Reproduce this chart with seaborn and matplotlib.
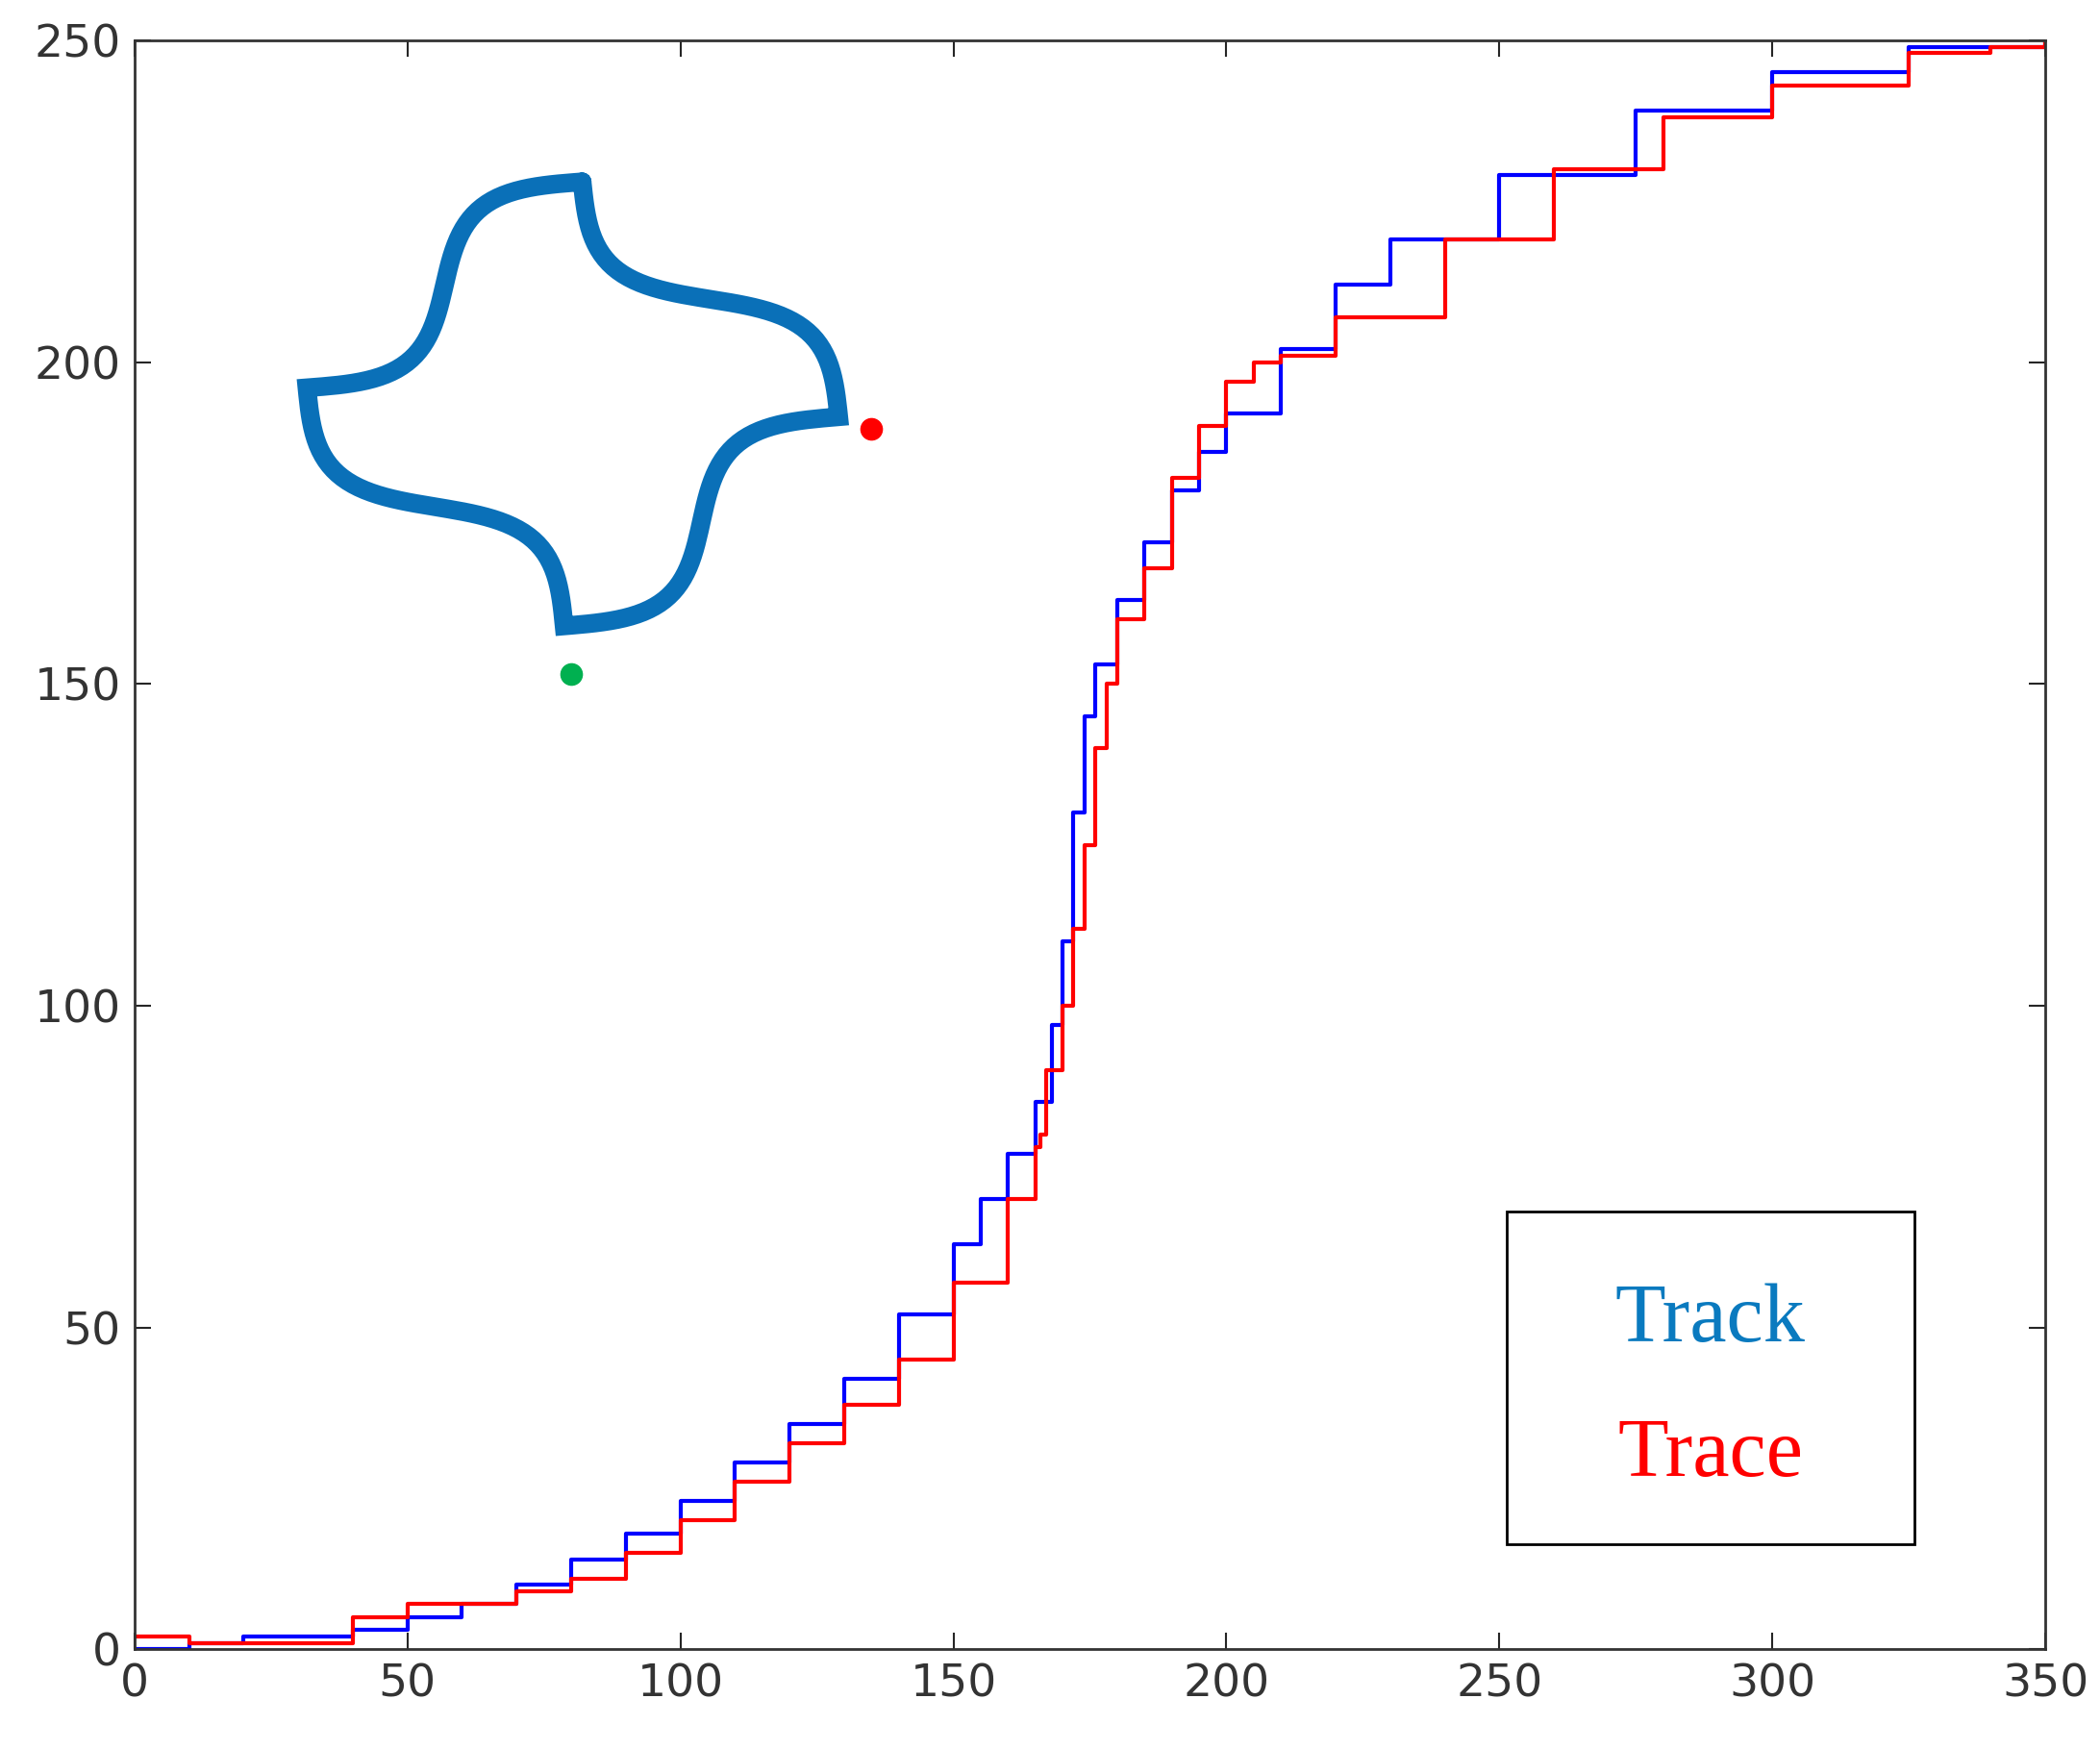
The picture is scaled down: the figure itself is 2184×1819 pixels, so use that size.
import numpy as np
import matplotlib
matplotlib.use("Agg")
import matplotlib.pyplot as plt
import seaborn as sns

# curve data
track_x = [0, 5, 10, 20, 30, 40, 50, 60, 70, 80, 90, 100, 110, 120, 130, 140, 150, 155, 160, 165, 168, 170, 172, 174, 176, 180, 185, 190, 195, 200, 210, 220, 230, 250, 275, 300, 325, 350]
track_y = [0, 0, 1, 2, 2, 3, 5, 7, 10, 14, 18, 23, 29, 35, 42, 52, 63, 70, 77, 85, 97, 110, 130, 145, 153, 163, 172, 180, 186, 192, 202, 212, 219, 229, 239, 245, 249, 250]
trace_x = [0, 8, 10, 20, 30, 40, 50, 60, 70, 80, 90, 100, 110, 120, 130, 140, 150, 160, 165, 166, 167, 170, 172, 174, 176, 178, 180, 185, 190, 195, 200, 205, 210, 220, 240, 260, 280, 300, 325, 340, 350]
trace_y = [2, 2, 1, 1, 1, 5, 7, 7, 9, 11, 15, 20, 26, 32, 38, 45, 57, 70, 78, 80, 90, 100, 112, 125, 140, 150, 160, 168, 182, 190, 197, 200, 201, 207, 219, 230, 238, 243, 248, 249, 250]

# shape outline cusps and marker dots
cusp_x = [82, 129, 78.7, 31.6]
cusp_y = [228, 191.5, 159, 196]
start_dot = (80, 151.5)
end_dot = (135, 189.6)

sns.set_theme(style="white")
fig = plt.figure(figsize=(21.84, 18.19), dpi=100)
ax = fig.add_axes([0.064, 0.057, 0.91, 0.92])

sns.lineplot(x=track_x, y=track_y, ax=ax, color="#0000ff", lw=3, drawstyle="steps-post", estimator=None, sort=False)
sns.lineplot(x=trace_x, y=trace_y, ax=ax, color="#ff0000", lw=3, drawstyle="steps-post", estimator=None, sort=False)

# S-shaped sides between cusps
sx, sy = [], []
ys = 1.43  # rough aspect to data units
t = np.linspace(0, 1, 60)
for i in range(4):
    ax0, ay0 = cusp_x[i], cusp_y[i] * ys
    bx, by = cusp_x[(i + 1) % 4], cusp_y[(i + 1) % 4] * ys
    dx, dy = bx - ax0, by - ay0
    L = np.hypot(dx, dy)
    nx, ny = dy / L, -dx / L
    off = 0.12 * L * np.sin(2 * np.pi * t)
    sx += list(ax0 + t * dx + off * nx)
    sy += list((ay0 + t * dy + off * ny) / ys)
ax.plot(sx, sy, color="#0a70b8", lw=14, solid_joinstyle="miter")

ax.plot(*start_dot, "o", color="#00b050", ms=16)
ax.plot(*end_dot, "o", color="#ff0000", ms=16)

# legend-like box
ax.add_patch(plt.Rectangle((251.3, 16.4), 74.7, 51.6, fill=False, ec="black", lw=2))
ax.text(288.6, 51, "Track", color="#0a7abf", fontsize=62, family="Liberation Serif", ha="center", va="center")
ax.text(288.6, 30, "Trace", color="#ff0000", fontsize=62, family="Liberation Serif", ha="center", va="center")

ax.set_xlim(0, 350)
ax.set_ylim(0, 250)
ax.set_xticks(range(0, 351, 50))
ax.set_yticks(range(0, 251, 50))
ax.tick_params(direction="in", length=12, width=1.5, labelsize=34, labelcolor="#333333",
               top=True, right=True, bottom=True, left=True, pad=10)
for s in ax.spines.values():
    s.set_color("#333333")
    s.set_linewidth(2)

fig.savefig("out.png", dpi=100)
